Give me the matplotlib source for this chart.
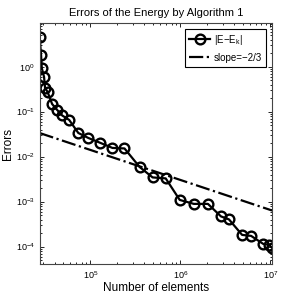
import numpy as np
import matplotlib
matplotlib.use("Agg")
import matplotlib.pyplot as plt

plt.rcParams['font.family'] = ['Liberation Sans', 'DejaVu Sans']
plt.rcParams['mathtext.default'] = 'regular'

# number of elements and energy errors
n_elements = [27300, 28350, 28860, 30600, 31400, 33500, 37600, 42800, 48600,
              58200, 73500, 95000, 129400, 176200, 239900, 352800, 492800,
              688700, 986700, 1.415e6, 2.03e6, 2.835e6, 3.48e6, 4.87e6,
              6.13e6, 8.35e6, 9.75e6, 1.05e7]
errors = [4.57, 1.82, 0.935, 0.59, 0.336, 0.274, 0.148, 0.109, 0.0824,
          0.0654, 0.0336, 0.0260, 0.0202, 0.0156, 0.0152, 0.0059, 0.00345,
          0.00328, 0.00109, 0.00089, 0.00089, 0.000469, 0.000402, 0.000182,
          0.000173, 0.000115, 0.000109, 0.0000936]

# reference slope line -2/3, anchored at the left end
slope_x = [n_elements[0], n_elements[-1]]
slope_y0 = 0.0335
slope = -2 / 3

fig = plt.figure(figsize=(3, 3), dpi=100)
ax = fig.add_axes([0.132, 0.12, 0.775, 0.803])

sy = [slope_y0 * (x / slope_x[0]) ** slope for x in slope_x]

ax.loglog(n_elements, errors, '-o', color='black', lw=1.6, ms=7,
          mfc='none', mew=1.7, label='|E−E$_k$|')
ax.loglog(slope_x, sy, '-.', color='black', lw=1.6, label='slope=−2/3')

ax.set_xlim(n_elements[0], n_elements[-1])
ax.set_ylim(4.1e-5, 9.3)

ax.tick_params(which='both', direction='in', top=True, right=True,
               labelsize=6.5, width=0.6)
ax.tick_params(which='major', length=3)
ax.tick_params(which='minor', length=1.6)
for s in ax.spines.values():
    s.set_linewidth(0.8)
    s.set_color('#444444')

ax.set_title('Errors of the Energy by Algorithm 1', fontsize=8, pad=5)
ax.set_xlabel('Number of elements', fontsize=8.5, labelpad=1)
ax.set_ylabel('Errors', fontsize=8.5)
ax.yaxis.set_label_coords(-0.11, 0.5)

leg = ax.legend(loc='upper right', fontsize=7, fancybox=False,
                edgecolor='black', framealpha=1, handlelength=2.2,
                borderpad=0.4, labelspacing=0.6, handletextpad=0.4,
                borderaxespad=0.6)
leg.get_frame().set_linewidth(0.8)

fig.savefig('out.png', dpi=100)
